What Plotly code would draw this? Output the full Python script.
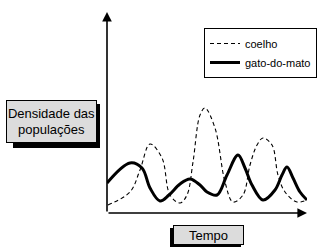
import plotly.graph_objects as go

# Data (time in arbitrary units 0-100, density in arbitrary units)
coelho_t = [0.5, 11.5, 16.5, 21.5, 27.5, 31.5, 36.5, 40, 43, 46.5, 49, 54, 59, 63, 68, 71.5, 75, 78, 82.5, 85.5, 89, 95, 100]
coelho_v = [8, 21, 43, 69, 55, 18, 10, 18, 51, 98, 105, 85, 31, 11, 18, 48, 68, 75, 68, 38, 21, 11, 13]

gato_t = [0, 11.5, 17.5, 21.5, 26.5, 31, 36.5, 41.5, 46.5, 50, 55, 60, 65.5, 69, 72.5, 78, 84, 87.5, 90, 93, 96.5, 100]
gato_v = [30, 50, 45, 25, 12, 18, 29, 34, 28, 21, 18, 38, 58, 45, 28, 13, 23, 38, 46, 35, 21, 13]

series_names = ["coelho", "gato-do-mato"]
y_label = "Densidade das<br>populações"
x_label = "Tempo"

W, H = 330, 250
L, R, T, B = 107, 23, 12, 37
PW, PH = W - L - R, H - T - B

def px(x):
    return (x - L) / PW

def py(y):
    return (H - B - y) / PH

fig = go.Figure()
fig.add_trace(go.Scatter(x=coelho_t, y=coelho_v, mode="lines", name=series_names[0],
                         line=dict(color="black", width=1.1, dash="4px,3px", shape="spline", smoothing=1.0)))
fig.add_trace(go.Scatter(x=gato_t, y=gato_v, mode="lines", name=series_names[1],
                         line=dict(color="black", width=3, shape="spline", smoothing=1.0)))

shapes = [
    # shadow of y label box
    dict(type="rect", xref="paper", yref="paper", x0=px(13), x1=px(100), y0=py(148), y1=py(104),
         fillcolor="black", line=dict(width=0), layer="above"),
    # shadow of Tempo box
    dict(type="rect", xref="paper", yref="paper", x0=px(170), x1=px(241), y0=py(247), y1=py(228),
         fillcolor="black", line=dict(width=0), layer="above"),
]

annotations = [
    # y axis arrow
    dict(x=0, y=201, ax=0, ay=0, xref="x", yref="y", axref="x", ayref="y", text="",
         showarrow=True, arrowhead=2, arrowsize=1.2, arrowwidth=1.6, arrowcolor="black"),
    # x axis arrow
    dict(x=100, y=0, ax=0, ay=0, xref="x", yref="y", axref="x", ayref="y", text="",
         showarrow=True, arrowhead=2, arrowsize=1.2, arrowwidth=1.6, arrowcolor="black"),
    dict(x=px(52), y=py(121.5), xref="paper", yref="paper", text=y_label, showarrow=False,
         font=dict(family="Liberation Sans, Arial", size=13, color="black"),
         bgcolor="#dcdcdc", bordercolor="black", borderwidth=1, borderpad=1,
         width=87, height=39, xanchor="center", yanchor="middle"),
    dict(x=px(208.5), y=py(235), xref="paper", yref="paper", text=x_label, showarrow=False,
         font=dict(family="Liberation Sans, Arial", size=13, color="black"),
         bgcolor="#dcdcdc", bordercolor="black", borderwidth=1, borderpad=1,
         width=67, height=16, xanchor="center", yanchor="middle"),
]

fig.update_layout(
    width=W, height=H,
    margin=dict(l=L, r=R, t=T, b=B),
    paper_bgcolor="white", plot_bgcolor="white",
    xaxis=dict(range=[0, 100], showgrid=False, zeroline=False, showticklabels=False, ticks="",
               showline=False),
    yaxis=dict(range=[0, 201], showgrid=False, zeroline=False, showticklabels=False, ticks="",
               showline=False),
    showlegend=True,
    legend=dict(x=px(204), y=py(28), xanchor="left", yanchor="top",
                bordercolor="black", borderwidth=1, bgcolor="white",
                font=dict(family="Liberation Sans, Arial", size=11, color="black"),
                itemwidth=30, tracegroupgap=0),
    shapes=shapes,
    annotations=annotations,
)

fig.write_html("out.html", config={"displayModeBar": False},
               post_script="document.body.style.margin='0';document.body.style.overflow='hidden';")
